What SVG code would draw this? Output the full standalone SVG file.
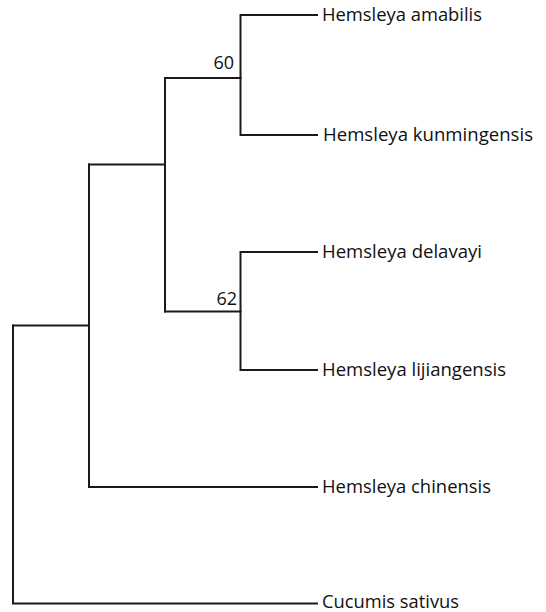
<svg xmlns="http://www.w3.org/2000/svg" width="546" height="612" viewBox="0 0 546 612">
<style>
.br{fill:none;stroke:#1a1a1a;stroke-width:2;stroke-linecap:square}
.lb{font-family:"Open Sans","Liberation Sans",sans-serif;font-size:18px;fill:#111}
.bs{font-family:"Open Sans","Liberation Sans",sans-serif;font-size:18px;fill:#111;text-anchor:end}
</style>
<rect width="546" height="612" fill="#fff"/>
<g id="connectors">
<path class="br" d="M317,15 H240.5 V135 H317"/>
<path class="br" d="M240.5,78 H165"/>
<path class="br" d="M317,252 H240.5 V370 H317"/>
<path class="br" d="M240.5,311.5 H165"/>
<path class="br" d="M165,78 V311.5"/>
<path class="br" d="M165,164.5 H89"/>
<path class="br" d="M89,164.5 V487 H317"/>
<path class="br" d="M89,325.5 H13"/>
<path class="br" d="M13,325.5 V603.5 H317"/>
</g>
<g id="n-amabilis"><text class="lb" x="322" y="21" textLength="160" lengthAdjust="spacingAndGlyphs">Hemsleya amabilis</text></g>
<g id="n-kunmingensis"><text class="lb" x="323" y="141" textLength="210" lengthAdjust="spacingAndGlyphs">Hemsleya kunmingensis</text></g>
<g id="n-delavayi"><text class="lb" x="322" y="258" textLength="160" lengthAdjust="spacingAndGlyphs">Hemsleya delavayi</text></g>
<g id="n-lijiangensis"><text class="lb" x="322" y="376" textLength="184" lengthAdjust="spacingAndGlyphs">Hemsleya lijiangensis</text></g>
<g id="n-chinensis"><text class="lb" x="322" y="493" textLength="169" lengthAdjust="spacingAndGlyphs">Hemsleya chinensis</text></g>
<g id="n-cucumis"><text class="lb" x="322" y="608" textLength="137" lengthAdjust="spacingAndGlyphs">Cucumis sativus</text></g>
<g id="s60"><text class="bs" x="234" y="69">60</text></g>
<g id="s62"><text class="bs" x="237" y="305">62</text></g>
</svg>
